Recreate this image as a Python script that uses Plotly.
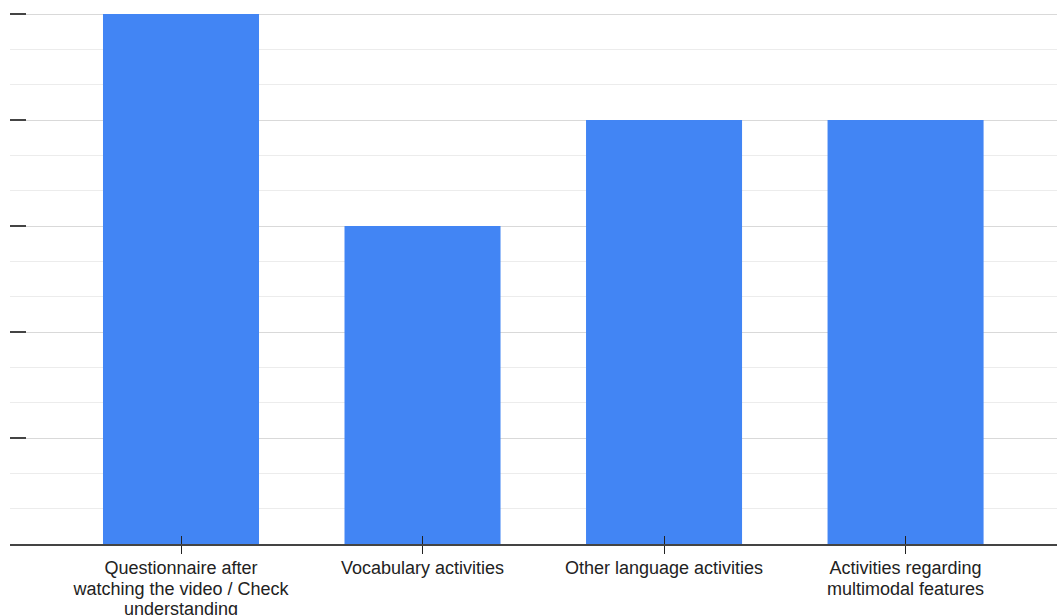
import plotly.graph_objects as go

categories = [
    "Questionnaire after watching the video / Check understanding",
    "Vocabulary activities",
    "Other language activities",
    "Activities regarding multimodal features",
]
tick_lines = [
    ["Questionnaire after", "watching the video / Check", "understanding"],
    ["Vocabulary activities"],
    ["Other language activities"],
    ["Activities regarding", "multimodal features"],
]
values = [5, 3, 4, 4]

ticktext = ["<br>".join('<span style="font-size:18px">%s</span>' % l for l in lines)
            for lines in tick_lines]

fig = go.Figure()
fig.add_trace(go.Bar(x=categories, y=values, marker=dict(color="#4285F4", line=dict(width=0)),
                     hoverinfo="skip"))
fig.add_trace(go.Scatter(x=categories, y=values, xaxis="x2", mode="markers",
                         marker=dict(opacity=0), hoverinfo="skip", showlegend=False))

xr = [-0.708, 3.627]
fig.update_layout(
    width=1057, height=615,
    margin=dict(l=10, r=0, t=12, b=71),
    paper_bgcolor="white", plot_bgcolor="white",
    showlegend=False,
    bargap=0.354,
    font=dict(family="Liberation Sans, Arial, sans-serif", size=15.4, color="#222222"),
    xaxis=dict(type="category", range=xr, showgrid=False, showline=True, linecolor="#444444",
               linewidth=2, ticks="outside", ticklen=8, tickwidth=1, tickcolor="#222222",
               tickmode="array", tickvals=categories, ticktext=ticktext,
               ticklabelstandoff=2, automargin=False, tickfont=dict(size=15.4, color="#222222")),
    xaxis2=dict(type="category", range=xr, overlaying="x", anchor="y", side="bottom",
                showgrid=False, showline=False, ticks="inside", ticklen=8, tickwidth=1,
                tickcolor="#222222", showticklabels=False, automargin=False),
    yaxis=dict(range=[0, 5.02], dtick=1, tick0=0, showticklabels=False, ticks="inside",
               ticklen=16, tickwidth=2, tickcolor="#444444", showgrid=True, automargin=False,
               gridcolor="#d9d9d9", gridwidth=1, zeroline=False, showline=False,
               minor=dict(dtick=1/3, tick0=0, showgrid=True, gridcolor="#ececec",
                          gridwidth=1, ticks="")),
)

fig.write_html("out.html")
